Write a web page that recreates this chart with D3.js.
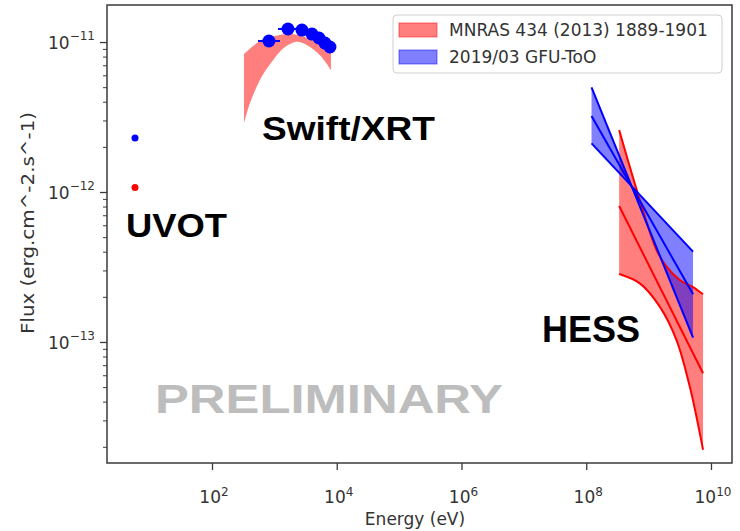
<!DOCTYPE html>
<html>
<head>
<meta charset="utf-8">
<script src="https://cdn.jsdelivr.net/npm/d3@7"></script>
<style>
  body { margin: 0; background: #fff; }
  text { font-family: "DejaVu Sans", sans-serif; }
</style>
</head>
<body>
<div class="chart"></div>
<script>
const svgWidth = 740;
const svgHeight = 531;

// axis ticks
const energyTicks = [1e2, 1e4, 1e6, 1e8, 1e10];
const fluxTicks = [1e-13, 1e-12, 1e-11];

// UVOT points [energy eV, flux]
const uvotBlue = [[5.83, 2.29e-12]];
const uvotRed = [[5.83, 1.07e-12]];

// Swift/XRT 2019 points [energy, flux, eLow, eHigh]
const xrtPoints = [
  [818, 1.016e-11, 546, 1230],
  [1652, 1.222e-11, 1143, 2388],
  [2767, 1.202e-11, 2500, 3050],
  [4009, 1.130e-11, 3700, 4350],
  [5188, 1.064e-11, 4850, 5550],
  [6471, 0.984e-11, 6100, 6850],
  [7780, 0.927e-11, 7400, 8150]
];

// Swift/XRT 2013 band edges
const xrtBandUpper = [
  [326, 8.32e-12], [587, 1.016e-11], [1023, 1.096e-11], [1778, 1.130e-11],
  [3090, 1.079e-11], [5000, 0.984e-11], [8072, 0.885e-11]
];
const xrtBandLower = [
  [326, 2.87e-12], [407, 3.92e-12], [587, 5.58e-12], [789, 6.81e-12],
  [959, 7.59e-12], [1390, 9.08e-12], [2275, 1.005e-11], [3296, 0.955e-11],
  [5383, 0.818e-11], [8072, 0.650e-11]
];

// HESS 2013 (red) curves
const hessRedUpper = [
  [3.37e8, 2.59e-12], [7.23e8, 8.85e-13], [1.34e9, 4.10e-13], [1.94e9, 3.18e-13],
  [3.16e9, 2.59e-13], [5.16e9, 2.32e-13], [7.46e9, 2.08e-13]
];
const hessRedMiddle = [[3.37e8, 8.07e-13], [7.46e9, 6.18e-14]];
const hessRedLower = [
  [3.37e8, 2.84e-13], [7.23e8, 2.46e-13], [1.51e9, 1.72e-13], [2.80e9, 1.03e-13],
  [4.57e9, 5.04e-14], [7.46e9, 1.91e-14]
];

// GFU-ToO 2019 (blue) butterfly lines
const gfuSteep = [[1.216e8, 4.99e-12], [5.16e9, 1.069e-13]];
const gfuBest = [[1.216e8, 3.21e-12], [5.16e9, 2.08e-13]];
const gfuFlat = [[1.216e8, 2.11e-12], [5.16e9, 4.00e-13]];

const legendLabels = ['MNRAS 434 (2013) 1889-1901', '2019/03 GFU-ToO'];

const redFill = 'rgba(255,0,0,0.5)';
const blueFill = 'rgba(0,0,255,0.5)';

const plot = { left: 107, right: 732, top: 5, bottom: 463 };

const svg = d3.select('.chart')
  .append('svg')
  .attr('width', svgWidth)
  .attr('height', svgHeight);

const x = d3.scaleLog()
  .domain([Math.pow(10, 0.3166), Math.pow(10, 10.337)])
  .range([plot.left, plot.right]);

const y = d3.scaleLog()
  .domain([Math.pow(10, -13.807), Math.pow(10, -10.753)])
  .range([plot.bottom, plot.top]);

const lineGen = d3.line()
  .x(d => x(d[0]))
  .y(d => y(d[1]))
  .curve(d3.curveCatmullRom);

// closed band from an upper and lower edge
function bandPath(upper, lower) {
  const top = lineGen(upper);
  const bottom = lineGen(lower.slice().reverse());
  return top + 'L' + bottom.slice(1) + 'Z';
}

// ---- frame and axes ----
svg.append('rect')
  .attr('x', plot.left)
  .attr('y', plot.top)
  .attr('width', plot.right - plot.left)
  .attr('height', plot.bottom - plot.top)
  .attr('fill', 'none')
  .attr('stroke', '#3a3a3a')
  .attr('stroke-width', 1.5);

const xAxis = svg.append('g')
  .attr('transform', `translate(0, ${plot.bottom})`)
  .call(d3.axisBottom(x).tickValues(energyTicks).tickSize(7).tickFormat(''));
xAxis.select('.domain').remove();
xAxis.selectAll('line').attr('stroke', '#3a3a3a').attr('stroke-width', 1.3);

energyTicks.forEach(t => {
  const label = svg.append('text')
    .attr('x', x(t) + 2)
    .attr('y', 503)
    .attr('text-anchor', 'middle')
    .attr('fill', '#333')
    .style('font-size', '17px');
  label.append('tspan').text('10');
  label.append('tspan')
    .attr('dy', -7)
    .style('font-size', '12px')
    .text(Math.round(Math.log10(t)));
});

// minor flux ticks
const minorFlux = [];
for (let e = -14; e <= -11; e++) {
  for (let m = 2; m <= 9; m++) {
    const v = m * Math.pow(10, e);
    if (v > y.domain()[0] && v < y.domain()[1]) minorFlux.push(v);
  }
}
const yMinor = svg.append('g')
  .attr('transform', `translate(${plot.left}, 0)`)
  .call(d3.axisLeft(y).tickValues(minorFlux).tickSize(4).tickFormat(''));
yMinor.select('.domain').remove();
yMinor.selectAll('line').attr('stroke', '#3a3a3a').attr('stroke-width', 1);

const yAxis = svg.append('g')
  .attr('transform', `translate(${plot.left}, 0)`)
  .call(d3.axisLeft(y).tickValues(fluxTicks).tickSize(7).tickFormat(''));
yAxis.select('.domain').remove();
yAxis.selectAll('line').attr('stroke', '#3a3a3a').attr('stroke-width', 1.3);

fluxTicks.forEach(t => {
  const label = svg.append('text')
    .attr('x', 95)
    .attr('y', y(t) + 7)
    .attr('text-anchor', 'end')
    .attr('fill', '#333')
    .style('font-size', '17px');
  label.append('tspan').text('10');
  label.append('tspan')
    .attr('dy', -9)
    .style('font-size', '12px')
    .text('\u2212' + Math.abs(Math.round(Math.log10(t))));
});

svg.append('text')
  .attr('x', 415)
  .attr('y', 525)
  .attr('text-anchor', 'middle')
  .attr('fill', '#333')
  .style('font-size', '17px')
  .text('Energy (eV)');

// the source picture is a little stretched vertically
svg.append('text')
  .attr('transform', 'translate(34, 223) rotate(-90) scale(1.17, 1)')
  .attr('text-anchor', 'middle')
  .attr('fill', '#333')
  .style('font-size', '17px')
  .text('Flux (erg.cm^-2.s^-1)');

// ---- data ----
svg.append('path')
  .attr('d', bandPath(xrtBandUpper, xrtBandLower))
  .attr('fill', redFill);

svg.append('path')
  .attr('d', bandPath(hessRedUpper, hessRedLower))
  .attr('fill', redFill);

svg.append('path')
  .attr('d', bandPath(gfuSteep, gfuFlat))
  .attr('fill', blueFill);

[hessRedUpper, hessRedMiddle, hessRedLower].forEach(curve => {
  svg.append('path')
    .attr('d', lineGen(curve))
    .attr('fill', 'none')
    .attr('stroke', 'red')
    .attr('stroke-width', 2);
});

[gfuSteep, gfuBest, gfuFlat].forEach(curve => {
  svg.append('path')
    .attr('d', lineGen(curve))
    .attr('fill', 'none')
    .attr('stroke', 'blue')
    .attr('stroke-width', 2);
});

svg.selectAll('.xrt-err')
  .data(xrtPoints)
  .enter()
  .append('line')
  .attr('x1', d => x(d[2]))
  .attr('x2', d => x(d[3]))
  .attr('y1', d => y(d[1]))
  .attr('y2', d => y(d[1]))
  .attr('stroke', 'blue')
  .attr('stroke-width', 2);

svg.selectAll('.xrt-dot')
  .data(xrtPoints)
  .enter()
  .append('circle')
  .attr('cx', d => x(d[0]))
  .attr('cy', d => y(d[1]))
  .attr('r', 6.5)
  .attr('fill', 'blue');

svg.selectAll('.uvot-blue')
  .data(uvotBlue)
  .enter()
  .append('circle')
  .attr('cx', d => x(d[0]))
  .attr('cy', d => y(d[1]))
  .attr('r', 3.5)
  .attr('fill', 'blue');

svg.selectAll('.uvot-red')
  .data(uvotRed)
  .enter()
  .append('circle')
  .attr('cx', d => x(d[0]))
  .attr('cy', d => y(d[1]))
  .attr('r', 3.5)
  .attr('fill', 'red');

// ---- legend ----
const legend = svg.append('g');
legend.append('rect')
  .attr('x', 393)
  .attr('y', 15)
  .attr('width', 329)
  .attr('height', 58)
  .attr('rx', 4)
  .attr('fill', 'rgba(255,255,255,0.8)')
  .attr('stroke', '#d0d0d0');
[redFill, blueFill].forEach((c, i) => {
  legend.append('rect')
    .attr('x', 399)
    .attr('y', 23 + i * 27)
    .attr('width', 38)
    .attr('height', 14)
    .attr('fill', c)
    .attr('stroke', c);
  legend.append('text')
    .attr('x', 449)
    .attr('y', 36 + i * 27)
    .attr('fill', '#333')
    .style('font-size', '17px')
    .text(legendLabels[i]);
});

// ---- annotations ----
function note(txt, x0, y0, size, len, color) {
  svg.append('text')
    .attr('x', x0)
    .attr('y', y0)
    .attr('textLength', len)
    .attr('lengthAdjust', 'spacingAndGlyphs')
    .attr('fill', color)
    .style('font-family', '"Liberation Sans", Arial, sans-serif')
    .style('font-weight', 'bold')
    .style('font-size', size + 'px')
    .text(txt);
}
note('UVOT', 126, 237, 33, 101, '#000');
note('Swift/XRT', 262, 140, 34, 173, '#000');
note('HESS', 542, 342, 37, 98, '#000');
note('PRELIMINARY', 155, 413, 40, 348, '#bdbdbd');
</script>
</body>
</html>
